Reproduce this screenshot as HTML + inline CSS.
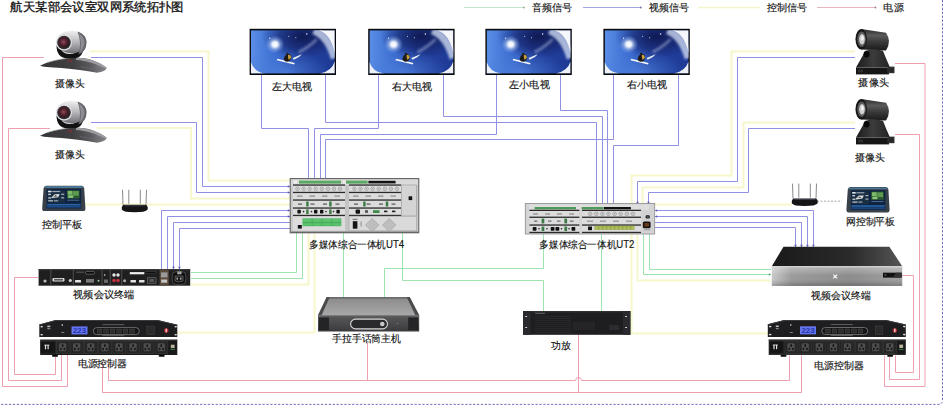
<!DOCTYPE html>
<html><head><meta charset="utf-8"><title>航天某部会议室双网系统拓扑图</title>
<style>
html,body{margin:0;padding:0;background:#fff;}
body{width:945px;height:408px;overflow:hidden;font-family:"Liberation Sans",sans-serif;}
svg{display:block;}
svg text{font-family:"Liberation Sans",sans-serif;}
.lbl{fill:#141414;stroke:#141414;stroke-width:0.15px;}
.ttl{stroke-width:0.32px;}
</style></head><body>
<svg width="945" height="408" viewBox="0 0 945 408">

<defs>
 <pattern id="dots" width="1.6" height="1.6" patternUnits="userSpaceOnUse"><circle cx="0.8" cy="0.8" r="0.55" fill="#929292"/></pattern>
 <linearGradient id="sky" x1="0" y1="0" x2="1" y2="0">
  <stop offset="0" stop-color="#5a8ee6"/>
  <stop offset="0.3" stop-color="#3a6cd0"/>
  <stop offset="0.55" stop-color="#22429e"/>
  <stop offset="1" stop-color="#1e3a96"/>
 </linearGradient>
 <radialGradient id="skydark" cx="0.62" cy="0.15" r="0.5">
  <stop offset="0" stop-color="#0e1850" stop-opacity="0.95"/>
  <stop offset="0.55" stop-color="#16246a" stop-opacity="0.65"/>
  <stop offset="1" stop-color="#1c2a78" stop-opacity="0"/>
 </radialGradient>
 <radialGradient id="skylow" cx="0.4" cy="1" r="0.55">
  <stop offset="0" stop-color="#5082e0" stop-opacity="0.8"/>
  <stop offset="1" stop-color="#4a7ad8" stop-opacity="0"/>
 </radialGradient>
 <radialGradient id="sun" cx="0.5" cy="0.5" r="0.5">
  <stop offset="0" stop-color="#ffffff"/>
  <stop offset="0.28" stop-color="#f4f8ff" stop-opacity="0.95"/>
  <stop offset="0.6" stop-color="#b8d0f8" stop-opacity="0.45"/>
  <stop offset="1" stop-color="#8ab0f0" stop-opacity="0"/>
 </radialGradient>
 <filter id="bl1" x="-20%" y="-20%" width="140%" height="140%"><feGaussianBlur stdDeviation="0.9"/></filter>
 <filter id="bl05" x="-20%" y="-20%" width="140%" height="140%"><feGaussianBlur stdDeviation="0.45"/></filter>
 <linearGradient id="camhead" x1="0" y1="0" x2="0" y2="1">
  <stop offset="0" stop-color="#f0f0f0"/>
  <stop offset="0.5" stop-color="#b8b8bc"/>
  <stop offset="1" stop-color="#707074"/>
 </linearGradient>
 <radialGradient id="lensL" cx="0.45" cy="0.45" r="0.55">
  <stop offset="0" stop-color="#8a4a5a"/>
  <stop offset="0.6" stop-color="#4a1c28"/>
  <stop offset="1" stop-color="#222"/>
 </radialGradient>
 <linearGradient id="cambase" x1="0" y1="0" x2="1" y2="0">
  <stop offset="0" stop-color="#363638"/>
  <stop offset="0.5" stop-color="#404042"/>
  <stop offset="0.75" stop-color="#5a5a5e"/>
  <stop offset="1" stop-color="#8a8a8e"/>
 </linearGradient>
 <linearGradient id="rcyl" x1="0" y1="0" x2="0" y2="1">
  <stop offset="0" stop-color="#2a2a2a"/>
  <stop offset="0.3" stop-color="#5a5a5a"/>
  <stop offset="0.6" stop-color="#3a3a3a"/>
  <stop offset="1" stop-color="#1a1a1a"/>
 </linearGradient>
 <linearGradient id="rbase" x1="0" y1="0" x2="1" y2="0">
  <stop offset="0" stop-color="#1c1c1c"/>
  <stop offset="0.5" stop-color="#3c3c3c"/>
  <stop offset="1" stop-color="#222"/>
 </linearGradient>
 <linearGradient id="termtop" x1="0" y1="0" x2="1" y2="0">
  <stop offset="0" stop-color="#1a1a1a"/>
  <stop offset="0.6" stop-color="#2a2a2a"/>
  <stop offset="1" stop-color="#555"/>
 </linearGradient>
 <linearGradient id="termfront" x1="0" y1="0" x2="1" y2="0">
  <stop offset="0" stop-color="#c8c8c8"/>
  <stop offset="0.15" stop-color="#9a9a9a"/>
  <stop offset="0.6" stop-color="#8a8a8a"/>
  <stop offset="1" stop-color="#a0a0a0"/>
 </linearGradient>
 <linearGradient id="termfrontv" x1="0" y1="0" x2="0" y2="1">
  <stop offset="0" stop-color="#ffffff" stop-opacity="0.35"/>
  <stop offset="0.5" stop-color="#ffffff" stop-opacity="0"/>
  <stop offset="1" stop-color="#000" stop-opacity="0.25"/>
 </linearGradient>
 <linearGradient id="mictop" x1="0" y1="0" x2="0" y2="1">
  <stop offset="0" stop-color="#8a8a8a"/>
  <stop offset="1" stop-color="#a8a8a8"/>
 </linearGradient>
 <linearGradient id="micfront" x1="0" y1="0" x2="0" y2="1">
  <stop offset="0" stop-color="#5a5a5c"/>
  <stop offset="1" stop-color="#3a3a3c"/>
 </linearGradient>
 <linearGradient id="tabscreen" x1="0" y1="0" x2="0" y2="1">
  <stop offset="0" stop-color="#1e5a9a"/>
  <stop offset="0.2" stop-color="#0e2a52"/>
  <stop offset="1" stop-color="#0c2448"/>
 </linearGradient>
</defs>

<rect width="945" height="408" fill="#ffffff"/>
<polyline points="91,57.5 202.5,57.5 202.5,186.5 290,186.5" fill="none" stroke="#9090e4" stroke-width="1" />
<polyline points="91,122.5 196.5,122.5 196.5,192.5 290,192.5" fill="none" stroke="#9090e4" stroke-width="1" />
<polyline points="161.5,269 161.5,210.5 290,210.5" fill="none" stroke="#9090e4" stroke-width="1" />
<polyline points="167.5,269 167.5,216.5 290,216.5" fill="none" stroke="#9090e4" stroke-width="1" />
<polyline points="173.5,269 173.5,222.5 290,222.5" fill="none" stroke="#9090e4" stroke-width="1" />
<polyline points="179.5,269 179.5,228.5 290,228.5" fill="none" stroke="#9090e4" stroke-width="1" />
<polyline points="261.5,75 261.5,128.5 308.5,128.5 308.5,178" fill="none" stroke="#9090e4" stroke-width="1" />
<polyline points="378.5,75 378.5,128.5 314.5,128.5 314.5,178" fill="none" stroke="#9090e4" stroke-width="1" />
<polyline points="496.5,75 496.5,134.5 320.5,134.5 320.5,178" fill="none" stroke="#9090e4" stroke-width="1" />
<polyline points="613.5,75 613.5,139.5 325.5,139.5 325.5,178" fill="none" stroke="#9090e4" stroke-width="1" />
<polyline points="325.5,75 325.5,122.5 596.5,122.5 596.5,204" fill="none" stroke="#9090e4" stroke-width="1" />
<polyline points="443.5,75 443.5,116.5 602.5,116.5 602.5,204" fill="none" stroke="#9090e4" stroke-width="1" />
<polyline points="560.5,75 560.5,110.5 607.5,110.5 607.5,204" fill="none" stroke="#9090e4" stroke-width="1" />
<polyline points="678.5,75 678.5,145.5 613.5,145.5 613.5,204" fill="none" stroke="#9090e4" stroke-width="1" />
<polyline points="855,57.5 737.5,57.5 737.5,181.5 637.5,181.5 637.5,204" fill="none" stroke="#9090e4" stroke-width="1" />
<polyline points="855,128.5 748.5,128.5 748.5,192.5 648.5,192.5 648.5,204" fill="none" stroke="#9090e4" stroke-width="1" />
<polyline points="655,210.5 813.5,210.5 813.5,247" fill="none" stroke="#9090e4" stroke-width="1" />
<polyline points="655,216.5 807.5,216.5 807.5,247" fill="none" stroke="#9090e4" stroke-width="1" />
<polyline points="655,222.5 801.5,222.5 801.5,247" fill="none" stroke="#9090e4" stroke-width="1" />
<polyline points="655,227.5 795.5,227.5 795.5,247" fill="none" stroke="#9090e4" stroke-width="1" />
<polyline points="90,51.5 208.5,51.5 208.5,180.5 290,180.5" fill="none" stroke="#f7f7cc" stroke-width="2" />
<polyline points="97,128 191,128 191,198.5 290,198.5" fill="none" stroke="#f7f7cc" stroke-width="2" />
<polyline points="85,204.5 290,204.5" fill="none" stroke="#f7f7cc" stroke-width="2" />
<polyline points="191,284.5 308.5,284.5 308.5,233" fill="none" stroke="#f7f7cc" stroke-width="2" />
<polyline points="177,332.5 314.5,332.5 314.5,233" fill="none" stroke="#f7f7cc" stroke-width="2" />
<polyline points="855,51.5 731.5,51.5 731.5,175.5 631.5,175.5 631.5,204" fill="none" stroke="#f7f7cc" stroke-width="2" />
<polyline points="855,122.5 743.5,122.5 743.5,187.5 642.5,187.5 642.5,204" fill="none" stroke="#f7f7cc" stroke-width="2" />
<polyline points="655,204.5 792,204.5" fill="none" stroke="#f7f7cc" stroke-width="2" />
<polyline points="637.5,234 637.5,280.5 771,280.5" fill="none" stroke="#f7f7cc" stroke-width="2" />
<polyline points="631.5,234 631.5,333.5 768,333.5" fill="none" stroke="#f7f7cc" stroke-width="2" />
<polyline points="191,272.5 296.5,272.5 296.5,233" fill="none" stroke="#9ee4b0" stroke-width="1" />
<polyline points="191,278.5 302.5,278.5 302.5,233" fill="none" stroke="#9ee4b0" stroke-width="1" />
<polyline points="343.5,233 343.5,297" fill="none" stroke="#9ee4b0" stroke-width="1" />
<polyline points="543.5,234 543.5,268.5 384.5,268.5 384.5,297" fill="none" stroke="#9ee4b0" stroke-width="1" />
<polyline points="402.5,233 402.5,280.5 543.5,280.5 543.5,311" fill="none" stroke="#9ee4b0" stroke-width="1" />
<polyline points="601.5,234 601.5,311" fill="none" stroke="#9ee4b0" stroke-width="1" />
<polyline points="643.5,234 643.5,274.5 771,274.5" fill="none" stroke="#9ee4b0" stroke-width="1" />
<polyline points="649.5,234 649.5,269.5 771,269.5" fill="none" stroke="#9ee4b0" stroke-width="1" />
<polyline points="44,57.5 2.5,57.5 2.5,386.5 67.5,386.5 67.5,355" fill="none" stroke="#eea0b0" stroke-width="1" />
<polyline points="50,128.5 8.5,128.5 8.5,380.5 61.5,380.5 61.5,355" fill="none" stroke="#eea0b0" stroke-width="1" />
<polyline points="38,277.5 14.5,277.5 14.5,374.5 55.5,374.5 55.5,355" fill="none" stroke="#eea0b0" stroke-width="1" />
<polyline points="102.5,362 102.5,392.5 801.5,392.5 801.5,355.6" fill="none" stroke="#eea0b0" stroke-width="1" />
<polyline points="367.5,343 367.5,380.5" fill="none" stroke="#eea0b0" stroke-width="1" />
<polyline points="578.5,334.5 578.5,392.5" fill="none" stroke="#eea0b0" stroke-width="1" />
<polyline points="895,63.5 925,63.5 925,386.5 884.5,386.5 884.5,355.6" fill="none" stroke="#eea0b0" stroke-width="1" />
<polyline points="895,134.5 919.5,134.5 919.5,379.5 889.5,379.5 889.5,355.6" fill="none" stroke="#eea0b0" stroke-width="1" />
<polyline points="902,275.5 913.5,275.5 913.5,372.5 895.5,372.5 895.5,355.6" fill="none" stroke="#eea0b0" stroke-width="1" />
<path d="M108.5,362 V380.5 H575.5 a3,3 0 0 1 6,0 H789.5 V355.6" fill="none" stroke="#eea0b0" stroke-width="1"/>
<polygon points="290,186.5 287.84,185.15 287.84,187.85" fill="#5a5ab8"/>
<polygon points="290,192.5 287.84,191.15 287.84,193.85" fill="#5a5ab8"/>
<polygon points="290,210.5 287.84,209.15 287.84,211.85" fill="#5a5ab8"/>
<polygon points="290,216.5 287.84,215.15 287.84,217.85" fill="#5a5ab8"/>
<polygon points="637.5,204 636.15,201.84 638.85,201.84" fill="#5a5ab8"/>
<polygon points="648.5,204 647.15,201.84 649.85,201.84" fill="#5a5ab8"/>
<polygon points="655,210.5 657.16,209.15 657.16,211.85" fill="#5a5ab8"/>
<polygon points="655,216.5 657.16,215.15 657.16,217.85" fill="#5a5ab8"/>
<polygon points="173.5,269 172.15,266.84 174.85,266.84" fill="#5a5ab8"/>
<polygon points="179.5,269 178.15,266.84 180.85,266.84" fill="#5a5ab8"/>
<polygon points="795.5,247 794.15,244.84 796.85,244.84" fill="#5a5ab8"/>
<polygon points="801.5,247 800.15,244.84 802.85,244.84" fill="#5a5ab8"/>
<polygon points="807.5,247 806.15,244.84 808.85,244.84" fill="#5a5ab8"/>
<polygon points="813.5,247 812.15,244.84 814.85,244.84" fill="#5a5ab8"/>
<polygon points="771,274.5 768.84,273.15 768.84,275.85" fill="#5a9a6a"/>
<polyline points="464,7.5 523.5,7.5" fill="none" stroke="#c4e6c8" stroke-width="1" />
<circle cx="523.8" cy="7.5" r="0.9" fill="#90a894"/>
<polyline points="583,7.5 640.5,7.5" fill="none" stroke="#a4a4e2" stroke-width="1" />
<circle cx="640.8" cy="7.5" r="0.9" fill="#7070a8"/>
<polyline points="698,7.5 760,7.5" fill="none" stroke="#f4f4cc" stroke-width="1.5" />
<polyline points="817,7.5 875.5,7.5" fill="none" stroke="#e8b4be" stroke-width="1" />
<circle cx="875.5" cy="7.5" r="0.9" fill="#a08088"/>
<line x1="817" y1="201.2" x2="842" y2="201.2" stroke="#909090" stroke-width="0.8" stroke-dasharray="2,1.5"/>
<path d="M942.5,0 V400 Q942.5,404.4 938,404.4 H0" fill="none" stroke="#7070c0" stroke-width="1" stroke-dasharray="2.3,1.6"/>
<g transform="translate(249.6,28.8)">
 <rect x="0" y="0" width="86.4" height="46.2" fill="#0a0a0a"/>
 <svg x="1.2" y="1.4" width="84" height="43.4" viewBox="0 0 84 43.4" overflow="hidden">  <rect width="84" height="43.4" fill="url(#sky)"/>
  <rect width="84" height="43.4" fill="url(#skydark)"/>
  <rect width="84" height="43.4" fill="url(#skylow)"/>
  <g filter="url(#bl1)">
   <path d="M63,0 Q78,6 84,28" fill="none" stroke="#cad6ee" stroke-width="8" opacity="0.8"/>
   <path d="M48,22 Q58,17 66,9" fill="none" stroke="#b8c6e8" stroke-width="3" opacity="0.45"/>
  </g>
  <path d="M68,0 Q80,4 84,23 V0 Z" fill="#f4f6fa"/>
  <path d="M0,31.5 Q3,42 15,43.4 H0 Z" fill="#eef2f8"/>
  <path d="M69,43.4 Q81,41 84,31 V43.4 Z" fill="#eef2f8"/>
  <ellipse cx="24.2" cy="14.2" rx="9.5" ry="9" fill="url(#sun)"/>
  <path d="M42,27.8 Q47,25.5 51,24 Q49.5,26.5 43,29.5 Z" fill="#e4eaf6" filter="url(#bl05)"/>
  <path d="M26,30 L43.4,34.4 L43.9,32.8 L26.6,28.6 Z" fill="#f8f8f8"/>
  <path d="M33,28.5 Q34,24.5 37,23.8 Q40.5,24 40.5,27 Q40,31 36.5,31.6 Q33.5,31.4 33,28.5 Z" fill="#1e1a16"/>
  <path d="M37.2,24.6 Q40,24.6 40.2,27 Q39.6,29.2 37.8,29.6 Q37,27 37.2,24.6 Z" fill="#c8a040"/>
  <circle cx="36.6" cy="23.6" r="1.1" fill="#241c14"/>
  <circle cx="56" cy="3.8" r="0.7" fill="#fff"/>
  <circle cx="38" cy="6" r="0.5" fill="#fff"/>
  <circle cx="45" cy="7.5" r="0.5" fill="#fff"/>
  <circle cx="19" cy="8" r="0.6" fill="#fff"/>
</svg>
</g>
<g transform="translate(368.2,28.8)">
 <rect x="0" y="0" width="86.4" height="46.2" fill="#0a0a0a"/>
 <svg x="1.2" y="1.4" width="84" height="43.4" viewBox="0 0 84 43.4" overflow="hidden">  <rect width="84" height="43.4" fill="url(#sky)"/>
  <rect width="84" height="43.4" fill="url(#skydark)"/>
  <rect width="84" height="43.4" fill="url(#skylow)"/>
  <g filter="url(#bl1)">
   <path d="M63,0 Q78,6 84,28" fill="none" stroke="#cad6ee" stroke-width="8" opacity="0.8"/>
   <path d="M48,22 Q58,17 66,9" fill="none" stroke="#b8c6e8" stroke-width="3" opacity="0.45"/>
  </g>
  <path d="M68,0 Q80,4 84,23 V0 Z" fill="#f4f6fa"/>
  <path d="M0,31.5 Q3,42 15,43.4 H0 Z" fill="#eef2f8"/>
  <path d="M69,43.4 Q81,41 84,31 V43.4 Z" fill="#eef2f8"/>
  <ellipse cx="24.2" cy="14.2" rx="9.5" ry="9" fill="url(#sun)"/>
  <path d="M42,27.8 Q47,25.5 51,24 Q49.5,26.5 43,29.5 Z" fill="#e4eaf6" filter="url(#bl05)"/>
  <path d="M26,30 L43.4,34.4 L43.9,32.8 L26.6,28.6 Z" fill="#f8f8f8"/>
  <path d="M33,28.5 Q34,24.5 37,23.8 Q40.5,24 40.5,27 Q40,31 36.5,31.6 Q33.5,31.4 33,28.5 Z" fill="#1e1a16"/>
  <path d="M37.2,24.6 Q40,24.6 40.2,27 Q39.6,29.2 37.8,29.6 Q37,27 37.2,24.6 Z" fill="#c8a040"/>
  <circle cx="36.6" cy="23.6" r="1.1" fill="#241c14"/>
  <circle cx="56" cy="3.8" r="0.7" fill="#fff"/>
  <circle cx="38" cy="6" r="0.5" fill="#fff"/>
  <circle cx="45" cy="7.5" r="0.5" fill="#fff"/>
  <circle cx="19" cy="8" r="0.6" fill="#fff"/>
</svg>
</g>
<g transform="translate(485.4,28.8)">
 <rect x="0" y="0" width="86.4" height="46.2" fill="#0a0a0a"/>
 <svg x="1.2" y="1.4" width="84" height="43.4" viewBox="0 0 84 43.4" overflow="hidden">  <rect width="84" height="43.4" fill="url(#sky)"/>
  <rect width="84" height="43.4" fill="url(#skydark)"/>
  <rect width="84" height="43.4" fill="url(#skylow)"/>
  <g filter="url(#bl1)">
   <path d="M63,0 Q78,6 84,28" fill="none" stroke="#cad6ee" stroke-width="8" opacity="0.8"/>
   <path d="M48,22 Q58,17 66,9" fill="none" stroke="#b8c6e8" stroke-width="3" opacity="0.45"/>
  </g>
  <path d="M68,0 Q80,4 84,23 V0 Z" fill="#f4f6fa"/>
  <path d="M0,31.5 Q3,42 15,43.4 H0 Z" fill="#eef2f8"/>
  <path d="M69,43.4 Q81,41 84,31 V43.4 Z" fill="#eef2f8"/>
  <ellipse cx="24.2" cy="14.2" rx="9.5" ry="9" fill="url(#sun)"/>
  <path d="M42,27.8 Q47,25.5 51,24 Q49.5,26.5 43,29.5 Z" fill="#e4eaf6" filter="url(#bl05)"/>
  <path d="M26,30 L43.4,34.4 L43.9,32.8 L26.6,28.6 Z" fill="#f8f8f8"/>
  <path d="M33,28.5 Q34,24.5 37,23.8 Q40.5,24 40.5,27 Q40,31 36.5,31.6 Q33.5,31.4 33,28.5 Z" fill="#1e1a16"/>
  <path d="M37.2,24.6 Q40,24.6 40.2,27 Q39.6,29.2 37.8,29.6 Q37,27 37.2,24.6 Z" fill="#c8a040"/>
  <circle cx="36.6" cy="23.6" r="1.1" fill="#241c14"/>
  <circle cx="56" cy="3.8" r="0.7" fill="#fff"/>
  <circle cx="38" cy="6" r="0.5" fill="#fff"/>
  <circle cx="45" cy="7.5" r="0.5" fill="#fff"/>
  <circle cx="19" cy="8" r="0.6" fill="#fff"/>
</svg>
</g>
<g transform="translate(603.4,28.8)">
 <rect x="0" y="0" width="86.4" height="46.2" fill="#0a0a0a"/>
 <svg x="1.2" y="1.4" width="84" height="43.4" viewBox="0 0 84 43.4" overflow="hidden">  <rect width="84" height="43.4" fill="url(#sky)"/>
  <rect width="84" height="43.4" fill="url(#skydark)"/>
  <rect width="84" height="43.4" fill="url(#skylow)"/>
  <g filter="url(#bl1)">
   <path d="M63,0 Q78,6 84,28" fill="none" stroke="#cad6ee" stroke-width="8" opacity="0.8"/>
   <path d="M48,22 Q58,17 66,9" fill="none" stroke="#b8c6e8" stroke-width="3" opacity="0.45"/>
  </g>
  <path d="M68,0 Q80,4 84,23 V0 Z" fill="#f4f6fa"/>
  <path d="M0,31.5 Q3,42 15,43.4 H0 Z" fill="#eef2f8"/>
  <path d="M69,43.4 Q81,41 84,31 V43.4 Z" fill="#eef2f8"/>
  <ellipse cx="24.2" cy="14.2" rx="9.5" ry="9" fill="url(#sun)"/>
  <path d="M42,27.8 Q47,25.5 51,24 Q49.5,26.5 43,29.5 Z" fill="#e4eaf6" filter="url(#bl05)"/>
  <path d="M26,30 L43.4,34.4 L43.9,32.8 L26.6,28.6 Z" fill="#f8f8f8"/>
  <path d="M33,28.5 Q34,24.5 37,23.8 Q40.5,24 40.5,27 Q40,31 36.5,31.6 Q33.5,31.4 33,28.5 Z" fill="#1e1a16"/>
  <path d="M37.2,24.6 Q40,24.6 40.2,27 Q39.6,29.2 37.8,29.6 Q37,27 37.2,24.6 Z" fill="#c8a040"/>
  <circle cx="36.6" cy="23.6" r="1.1" fill="#241c14"/>
  <circle cx="56" cy="3.8" r="0.7" fill="#fff"/>
  <circle cx="38" cy="6" r="0.5" fill="#fff"/>
  <circle cx="45" cy="7.5" r="0.5" fill="#fff"/>
  <circle cx="19" cy="8" r="0.6" fill="#fff"/>
</svg>
</g>
<g transform="translate(40,30.5)">
 <path d="M0,35.3 C8,31 20,28 36,27.3 C48,27 58,31 66.8,37.2 L65.4,39.6 C62,41.6 58,42.3 55.5,42.1 C45,40.2 30,37.9 4,36.3 Z" fill="url(#cambase)"/>
 <path d="M36,27.3 C48,27 58,31 66.8,37.2 L64,37.8 C56,33.4 47,30.2 36,29.6 Z" fill="#9c9ca0"/>
 <path d="M8,31.8 C18,28.6 28,27.4 36,27.3" fill="none" stroke="#a8a8a8" stroke-width="0.7"/>
 <path d="M64,37.8 C58,39 52,38.5 40,36" fill="none" stroke="#6a6a6e" stroke-width="0.6"/>
 <ellipse cx="30" cy="30.5" rx="2.6" ry="1.1" fill="#8a2a30" opacity="0.75"/>
 <path d="M16.5,15 Q16.5,27.6 28,27.9 L35,27.9 Q43,27.4 43.5,16 L40,16 Q38,23.6 30,23.6 Q21,23.6 19.8,15 Z" fill="#121212"/>
 <ellipse cx="31.5" cy="11.6" rx="15" ry="11.3" fill="url(#camhead)"/>
 <path d="M37.5,1 Q46.5,4 46.5,12 Q46.5,21 38.5,24 Q42,12 37.5,1 Z" fill="#66666c"/>
 <path d="M39,3 Q44,6 44.5,12 Q44,18 40,22 Q42,12 39,3 Z" fill="#8c8c92"/>
 <circle cx="24" cy="12" r="8" fill="#e0e0e4"/>
 <circle cx="24" cy="12" r="6.8" fill="#303034"/>
 <circle cx="24" cy="12" r="5.8" fill="url(#lensL)"/>
</g>
<g transform="translate(40,100.5)">
 <path d="M0,35.3 C8,31 20,28 36,27.3 C48,27 58,31 66.8,37.2 L65.4,39.6 C62,41.6 58,42.3 55.5,42.1 C45,40.2 30,37.9 4,36.3 Z" fill="url(#cambase)"/>
 <path d="M36,27.3 C48,27 58,31 66.8,37.2 L64,37.8 C56,33.4 47,30.2 36,29.6 Z" fill="#9c9ca0"/>
 <path d="M8,31.8 C18,28.6 28,27.4 36,27.3" fill="none" stroke="#a8a8a8" stroke-width="0.7"/>
 <path d="M64,37.8 C58,39 52,38.5 40,36" fill="none" stroke="#6a6a6e" stroke-width="0.6"/>
 <ellipse cx="30" cy="30.5" rx="2.6" ry="1.1" fill="#8a2a30" opacity="0.75"/>
 <path d="M16.5,15 Q16.5,27.6 28,27.9 L35,27.9 Q43,27.4 43.5,16 L40,16 Q38,23.6 30,23.6 Q21,23.6 19.8,15 Z" fill="#121212"/>
 <ellipse cx="31.5" cy="11.6" rx="15" ry="11.3" fill="url(#camhead)"/>
 <path d="M37.5,1 Q46.5,4 46.5,12 Q46.5,21 38.5,24 Q42,12 37.5,1 Z" fill="#66666c"/>
 <path d="M39,3 Q44,6 44.5,12 Q44,18 40,22 Q42,12 39,3 Z" fill="#8c8c92"/>
 <circle cx="24" cy="12" r="8" fill="#e0e0e4"/>
 <circle cx="24" cy="12" r="6.8" fill="#303034"/>
 <circle cx="24" cy="12" r="5.8" fill="url(#lensL)"/>
</g>
<g transform="translate(855,28.8)">
 <path d="M6,0.3 L31,4 Q37,12.5 31,21.6 L6,20.7 Z" fill="url(#rcyl)"/>
 <ellipse cx="6.2" cy="10.5" rx="5.7" ry="10.2" fill="#161616"/>
 <ellipse cx="6.6" cy="10.5" rx="4.3" ry="7.8" fill="#5a5a5a"/>
 <ellipse cx="7" cy="10.5" rx="2.8" ry="5.2" fill="#d0d0d0"/>
 <ellipse cx="7.4" cy="9.5" rx="1.2" ry="2.4" fill="#f4f4f4"/>
 <path d="M10.5,22 Q19,18.8 28,22 Q31,30 35,38.8 L1,38.8 Q6,30 10.5,22 Z" fill="url(#rbase)"/>
 <ellipse cx="11.5" cy="25.5" rx="3" ry="3.2" fill="#0a0a0a"/>
 <rect x="1" y="38.8" width="33" height="6.8" fill="#161616"/>
 <rect x="32.5" y="37.8" width="7" height="6.6" fill="#3a3a3a"/>
 <rect x="33.2" y="38.6" width="5.6" height="5" fill="#2a2a2a"/>
 <rect x="3" y="40.6" width="5" height="3" fill="#2e2e2e"/>
</g>
<g transform="translate(855,98.8)">
 <path d="M6,0.3 L31,4 Q37,12.5 31,21.6 L6,20.7 Z" fill="url(#rcyl)"/>
 <ellipse cx="6.2" cy="10.5" rx="5.7" ry="10.2" fill="#161616"/>
 <ellipse cx="6.6" cy="10.5" rx="4.3" ry="7.8" fill="#5a5a5a"/>
 <ellipse cx="7" cy="10.5" rx="2.8" ry="5.2" fill="#d0d0d0"/>
 <ellipse cx="7.4" cy="9.5" rx="1.2" ry="2.4" fill="#f4f4f4"/>
 <path d="M10.5,22 Q19,18.8 28,22 Q31,30 35,38.8 L1,38.8 Q6,30 10.5,22 Z" fill="url(#rbase)"/>
 <ellipse cx="11.5" cy="25.5" rx="3" ry="3.2" fill="#0a0a0a"/>
 <rect x="1" y="38.8" width="33" height="6.8" fill="#161616"/>
 <rect x="32.5" y="37.8" width="7" height="6.6" fill="#3a3a3a"/>
 <rect x="33.2" y="38.6" width="5.6" height="5" fill="#2a2a2a"/>
 <rect x="3" y="40.6" width="5" height="3" fill="#2e2e2e"/>
</g>
<g transform="translate(42.2,185.7)">
 <path d="M4,0 L39.5,0 Q41.6,0.3 42,2.5 L43.2,22.5 Q43.4,25.3 41,25.4 L2.2,25.4 Q-0.2,25.3 0,22.5 L1.4,2.5 Q1.8,0.3 4,0 Z" fill="#38404a"/>
 <path d="M4.2,0.4 L39.3,0.4 Q41,0.6 41.4,2.2 L2,2.2 Q2.4,0.6 4.2,0.4 Z" fill="#4a7494"/>
 <rect x="4.4" y="3.2" width="34.6" height="19.6" fill="#0e2442"/>
 <rect x="5.2" y="4.5" width="17.5" height="12.5" fill="#1a2e44"/>
 <rect x="5.8" y="5" width="3.5" height="1.6" fill="#dfe6ea"/>
 <rect x="10" y="5.2" width="8" height="1.2" fill="#9aa8b2"/>
 <rect x="6" y="8" width="2.6" height="1.4" fill="#c8d0d4"/>
 <path d="M9,12 L12.5,8.6 L17.5,8.4 L16,11.5 L10,12.4 Z" fill="#d8dcdc"/>
 <path d="M11.5,11 L13.5,9.4 L15,10.8 Z" fill="#3a3a30"/>
 <rect x="6" y="11.6" width="3" height="1.3" fill="#c8d0d4"/>
 <rect x="6" y="14.4" width="5" height="1.4" fill="#a8b4ba"/>
 <rect x="12" y="14.4" width="4" height="1.4" fill="#8a9aa4"/>
 <rect x="19" y="8" width="3" height="1.2" fill="#a8b4ba"/>
 <rect x="19" y="11.5" width="3" height="1.2" fill="#a8b4ba"/>
 <rect x="24.8" y="4.6" width="12.6" height="8.2" fill="#2e5a32"/>
 <rect x="25.5" y="5.2" width="4.8" height="3.8" fill="#7ab86a"/>
 <rect x="30.8" y="5.4" width="5.8" height="4.6" fill="#5c9a50"/>
 <rect x="26" y="9.6" width="5" height="2.6" fill="#8ac87a"/>
 <rect x="25" y="14" width="12" height="1" fill="#4a6a8a"/>
 <rect x="5" y="18.2" width="33.4" height="1.6" fill="#2a64a8"/>
 <rect x="5" y="20.4" width="33.4" height="1.4" fill="#1e5090"/>
</g>
<g transform="translate(846.4,187)">
 <path d="M4,0 L39.5,0 Q41.6,0.3 42,2.5 L43.2,22.5 Q43.4,25.3 41,25.4 L2.2,25.4 Q-0.2,25.3 0,22.5 L1.4,2.5 Q1.8,0.3 4,0 Z" fill="#38404a"/>
 <path d="M4.2,0.4 L39.3,0.4 Q41,0.6 41.4,2.2 L2,2.2 Q2.4,0.6 4.2,0.4 Z" fill="#4a7494"/>
 <rect x="4.4" y="3.2" width="34.6" height="19.6" fill="#0e2442"/>
 <rect x="5.2" y="4.5" width="17.5" height="12.5" fill="#1a2e44"/>
 <rect x="5.8" y="5" width="3.5" height="1.6" fill="#dfe6ea"/>
 <rect x="10" y="5.2" width="8" height="1.2" fill="#9aa8b2"/>
 <rect x="6" y="8" width="2.6" height="1.4" fill="#c8d0d4"/>
 <path d="M9,12 L12.5,8.6 L17.5,8.4 L16,11.5 L10,12.4 Z" fill="#d8dcdc"/>
 <path d="M11.5,11 L13.5,9.4 L15,10.8 Z" fill="#3a3a30"/>
 <rect x="6" y="11.6" width="3" height="1.3" fill="#c8d0d4"/>
 <rect x="6" y="14.4" width="5" height="1.4" fill="#a8b4ba"/>
 <rect x="12" y="14.4" width="4" height="1.4" fill="#8a9aa4"/>
 <rect x="19" y="8" width="3" height="1.2" fill="#a8b4ba"/>
 <rect x="19" y="11.5" width="3" height="1.2" fill="#a8b4ba"/>
 <rect x="24.8" y="4.6" width="12.6" height="8.2" fill="#2e5a32"/>
 <rect x="25.5" y="5.2" width="4.8" height="3.8" fill="#7ab86a"/>
 <rect x="30.8" y="5.4" width="5.8" height="4.6" fill="#5c9a50"/>
 <rect x="26" y="9.6" width="5" height="2.6" fill="#8ac87a"/>
 <rect x="25" y="14" width="12" height="1" fill="#4a6a8a"/>
 <rect x="5" y="18.2" width="33.4" height="1.6" fill="#2a64a8"/>
 <rect x="5" y="20.4" width="33.4" height="1.4" fill="#1e5090"/>
</g>
<g transform="translate(121.5,189.8)">
 <g stroke="#8a8a8a" stroke-width="1">
  <line x1="1" y1="0" x2="1.5" y2="15"/>
  <line x1="7.3" y1="0" x2="7.3" y2="14"/>
  <line x1="18.8" y1="0" x2="18.8" y2="14"/>
  <line x1="25" y1="0" x2="24.5" y2="15"/>
 </g>
 <path d="M2,15 L24.5,15 Q27,17 26,20 Q24,22.5 13,22.5 Q2,22.5 0.5,20 Q-0.5,17 2,15 Z" fill="#151518"/>
 <path d="M3,15.5 L23.5,15.5 L24,16.5 L2.5,16.5 Z" fill="#3a3a44"/>
</g>
<g transform="translate(791.5,183.6)">
 <g stroke="#8a8a8a" stroke-width="1">
  <line x1="1" y1="0" x2="1.5" y2="15"/>
  <line x1="7.3" y1="0" x2="7.3" y2="14"/>
  <line x1="18.8" y1="0" x2="18.8" y2="14"/>
  <line x1="25" y1="0" x2="24.5" y2="15"/>
 </g>
 <path d="M2,15 L24.5,15 Q27,17 26,20 Q24,22.5 13,22.5 Q2,22.5 0.5,20 Q-0.5,17 2,15 Z" fill="#151518"/>
 <path d="M3,15.5 L23.5,15.5 L24,16.5 L2.5,16.5 Z" fill="#3a3a44"/>
</g>
<rect x="290.20" y="178.60" width="128.60" height="54.20" fill="#cacaca" stroke="#5a5a5a" stroke-width="1"/>
<rect x="291.20" y="179.60" width="126.60" height="6.00" fill="#dadada" />
<rect x="299.00" y="180.60" width="42.00" height="3.00" fill="#5aa862" />
<rect x="346.00" y="180.60" width="21.60" height="3.00" fill="#5aa862" />
<rect x="368.40" y="180.80" width="27.20" height="2.60" fill="#111" />
<rect x="294.00" y="180.50" width="3.00" height="3.00" fill="#eee" />
<rect x="343.00" y="180.50" width="2.50" height="3.00" fill="#eee" />
<rect x="293.00" y="185.50" width="52.00" height="45.00" fill="#dcdcdc" />
<rect x="293.00" y="184.40" width="52.00" height="1.30" fill="#2a2a2a" />
<rect x="293.00" y="191.80" width="52.00" height="1.30" fill="#2a2a2a" />
<rect x="293.00" y="199.40" width="52.00" height="1.30" fill="#2a2a2a" />
<rect x="293.00" y="207.40" width="52.00" height="1.30" fill="#2a2a2a" />
<rect x="293.00" y="214.80" width="52.00" height="1.30" fill="#2a2a2a" />
<rect x="349.00" y="185.50" width="52.00" height="45.00" fill="#dcdcdc" />
<rect x="349.00" y="184.40" width="52.00" height="1.30" fill="#2a2a2a" />
<rect x="349.00" y="191.80" width="52.00" height="1.30" fill="#2a2a2a" />
<rect x="349.00" y="199.40" width="52.00" height="1.30" fill="#2a2a2a" />
<rect x="349.00" y="207.40" width="52.00" height="1.30" fill="#2a2a2a" />
<rect x="349.00" y="214.80" width="52.00" height="1.30" fill="#2a2a2a" />
<rect x="345.00" y="185.00" width="4.00" height="46.00" fill="#c4c4c4" />
<rect x="401.50" y="185.00" width="15.00" height="31.00" fill="#d4d4d4" stroke="#9a9a9a" stroke-width="0.6"/>
<rect x="349.00" y="216.20" width="67.50" height="14.60" fill="#dadada" stroke="#a0a0a0" stroke-width="0.6"/>
<rect x="360.50" y="221.50" width="1.20" height="5.00" fill="#9a9a9a" />
<rect x="408.60" y="196.30" width="3.60" height="3.80" fill="#111" />
<circle cx="297.50" cy="188.8" r="1.8" fill="#dedede" stroke="#7e7e7e" stroke-width="0.55"/><circle cx="297.50" cy="188.8" r="0.7" fill="#a0a0a0"/>
<circle cx="354.40" cy="188.8" r="1.8" fill="#dedede" stroke="#7e7e7e" stroke-width="0.55"/><circle cx="354.40" cy="188.8" r="0.7" fill="#a0a0a0"/>
<circle cx="303.58" cy="188.8" r="1.8" fill="#dedede" stroke="#7e7e7e" stroke-width="0.55"/><circle cx="303.58" cy="188.8" r="0.7" fill="#a0a0a0"/>
<circle cx="360.48" cy="188.8" r="1.8" fill="#dedede" stroke="#7e7e7e" stroke-width="0.55"/><circle cx="360.48" cy="188.8" r="0.7" fill="#a0a0a0"/>
<circle cx="309.66" cy="188.8" r="1.8" fill="#dedede" stroke="#7e7e7e" stroke-width="0.55"/><circle cx="309.66" cy="188.8" r="0.7" fill="#a0a0a0"/>
<circle cx="366.56" cy="188.8" r="1.8" fill="#dedede" stroke="#7e7e7e" stroke-width="0.55"/><circle cx="366.56" cy="188.8" r="0.7" fill="#a0a0a0"/>
<circle cx="315.74" cy="188.8" r="1.8" fill="#dedede" stroke="#7e7e7e" stroke-width="0.55"/><circle cx="315.74" cy="188.8" r="0.7" fill="#a0a0a0"/>
<circle cx="372.64" cy="188.8" r="1.8" fill="#dedede" stroke="#7e7e7e" stroke-width="0.55"/><circle cx="372.64" cy="188.8" r="0.7" fill="#a0a0a0"/>
<circle cx="321.82" cy="188.8" r="1.8" fill="#dedede" stroke="#7e7e7e" stroke-width="0.55"/><circle cx="321.82" cy="188.8" r="0.7" fill="#a0a0a0"/>
<circle cx="378.72" cy="188.8" r="1.8" fill="#dedede" stroke="#7e7e7e" stroke-width="0.55"/><circle cx="378.72" cy="188.8" r="0.7" fill="#a0a0a0"/>
<circle cx="327.90" cy="188.8" r="1.8" fill="#dedede" stroke="#7e7e7e" stroke-width="0.55"/><circle cx="327.90" cy="188.8" r="0.7" fill="#a0a0a0"/>
<circle cx="384.80" cy="188.8" r="1.8" fill="#dedede" stroke="#7e7e7e" stroke-width="0.55"/><circle cx="384.80" cy="188.8" r="0.7" fill="#a0a0a0"/>
<circle cx="333.98" cy="188.8" r="1.8" fill="#dedede" stroke="#7e7e7e" stroke-width="0.55"/><circle cx="333.98" cy="188.8" r="0.7" fill="#a0a0a0"/>
<circle cx="390.88" cy="188.8" r="1.8" fill="#dedede" stroke="#7e7e7e" stroke-width="0.55"/><circle cx="390.88" cy="188.8" r="0.7" fill="#a0a0a0"/>
<circle cx="340.06" cy="188.8" r="1.8" fill="#dedede" stroke="#7e7e7e" stroke-width="0.55"/><circle cx="340.06" cy="188.8" r="0.7" fill="#a0a0a0"/>
<circle cx="396.96" cy="188.8" r="1.8" fill="#dedede" stroke="#7e7e7e" stroke-width="0.55"/><circle cx="396.96" cy="188.8" r="0.7" fill="#a0a0a0"/>
<rect x="297.00" y="195.50" width="5.50" height="1.20" fill="#8a8a8a" />
<rect x="309.50" y="195.50" width="5.50" height="1.20" fill="#8a8a8a" />
<rect x="322.00" y="195.50" width="5.50" height="1.20" fill="#8a8a8a" />
<rect x="334.50" y="195.50" width="5.50" height="1.20" fill="#8a8a8a" />
<rect x="353.00" y="195.50" width="5.50" height="1.20" fill="#8a8a8a" />
<rect x="365.50" y="195.50" width="5.50" height="1.20" fill="#8a8a8a" />
<rect x="378.00" y="195.50" width="5.50" height="1.20" fill="#8a8a8a" />
<rect x="390.50" y="195.50" width="5.50" height="1.20" fill="#8a8a8a" />
<rect x="298.00" y="203.50" width="4.00" height="1.20" fill="#555" />
<rect x="310.50" y="203.50" width="4.00" height="1.20" fill="#555" />
<rect x="323.00" y="203.50" width="4.00" height="1.20" fill="#555" />
<rect x="335.50" y="203.50" width="4.00" height="1.20" fill="#555" />
<rect x="354.00" y="203.50" width="4.00" height="1.20" fill="#555" />
<rect x="366.50" y="203.50" width="4.00" height="1.20" fill="#555" />
<rect x="379.00" y="203.50" width="4.00" height="1.20" fill="#555" />
<rect x="391.50" y="203.50" width="4.00" height="1.20" fill="#555" />
<rect x="306.20" y="201.50" width="2.40" height="5.00" fill="#3a7a44" />
<rect x="329.20" y="201.50" width="2.40" height="5.00" fill="#3a7a44" />
<rect x="363.20" y="201.50" width="2.40" height="5.00" fill="#3a7a44" />
<rect x="385.80" y="201.50" width="2.40" height="5.00" fill="#3a7a44" />
<rect x="297.40" y="209.80" width="3.40" height="3.60" fill="#111" rx="0.6"/>
<rect x="314.00" y="209.80" width="3.40" height="3.60" fill="#111" rx="0.6"/>
<rect x="320.00" y="209.80" width="3.40" height="3.60" fill="#111" rx="0.6"/>
<rect x="336.40" y="209.80" width="3.40" height="3.60" fill="#111" rx="0.6"/>
<rect x="306.20" y="209.40" width="2.40" height="4.60" fill="#3a7a44" />
<rect x="329.20" y="209.40" width="2.40" height="4.60" fill="#3a7a44" />
<circle cx="303.5" cy="211.6" r="0.8" fill="#222"/>
<circle cx="311.5" cy="211.6" r="0.8" fill="#222"/>
<circle cx="326" cy="211.6" r="0.8" fill="#222"/>
<circle cx="333.5" cy="211.6" r="0.8" fill="#222"/>
<rect x="355.60" y="209.40" width="4.40" height="4.40" fill="#111" rx="1"/>
<rect x="365.00" y="210.20" width="3.00" height="2.60" fill="#555" />
<rect x="373.00" y="210.20" width="6.50" height="2.80" fill="#3d8a4a" />
<rect x="384.00" y="210.60" width="3.40" height="1.60" fill="#222" />
<rect x="392.00" y="210.60" width="3.40" height="1.60" fill="#222" />
<rect x="302.50" y="218.40" width="38.80" height="7.80" fill="#46b05a" />
<rect x="303.00" y="219.00" width="8.60" height="6.60" fill="#5cc46e" />
<rect x="303.00" y="222.50" width="8.60" height="0.60" fill="#3a8a48" />
<rect x="312.70" y="219.00" width="8.60" height="6.60" fill="#5cc46e" />
<rect x="312.70" y="222.50" width="8.60" height="0.60" fill="#3a8a48" />
<rect x="322.40" y="219.00" width="8.60" height="6.60" fill="#5cc46e" />
<rect x="322.40" y="222.50" width="8.60" height="0.60" fill="#3a8a48" />
<rect x="332.10" y="219.00" width="8.60" height="6.60" fill="#5cc46e" />
<rect x="332.10" y="222.50" width="8.60" height="0.60" fill="#3a8a48" />
<rect x="297.80" y="225.00" width="4.00" height="3.60" fill="#111" />
<rect x="352.80" y="221.20" width="4.60" height="7.50" fill="#151515" />
<rect x="352.60" y="218.80" width="4.80" height="1.00" fill="#666" />
<path d="M372.2,218.3 L379.0,225 L372.2,231.7 L365.4,225 Z" fill="#d6d6d6" stroke="#a8a8a8" stroke-width="0.6"/>
<path d="M372.2,218.3 L379.0,225 L372.2,231.7 L365.4,225 Z" fill="url(#dots)"/>
<path d="M389.2,218.3 L396.0,225 L389.2,231.7 L382.4,225 Z" fill="#d6d6d6" stroke="#a8a8a8" stroke-width="0.6"/>
<path d="M389.2,218.3 L396.0,225 L389.2,231.7 L382.4,225 Z" fill="url(#dots)"/>
<rect x="290.20" y="231.60" width="128.60" height="1.40" fill="#666" />
<rect x="525.30" y="203.50" width="129.40" height="30.50" fill="#d4d4d4" stroke="#8a8a8a" stroke-width="0.8"/>
<rect x="529.30" y="204.50" width="120.00" height="5.80" fill="#dedede" />
<rect x="534.60" y="207.00" width="41.40" height="2.30" fill="#4f9a58" />
<rect x="581.60" y="207.00" width="21.90" height="2.30" fill="#4f9a58" />
<rect x="603.90" y="207.00" width="27.00" height="2.30" fill="#111" />
<rect x="529.40" y="210.50" width="50.00" height="22.00" fill="#dcdcdc" />
<rect x="529.40" y="209.70" width="50.00" height="1.30" fill="#2a2a2a" />
<rect x="529.40" y="216.60" width="50.00" height="1.30" fill="#2a2a2a" />
<rect x="529.40" y="224.40" width="50.00" height="1.30" fill="#2a2a2a" />
<rect x="529.40" y="231.80" width="50.00" height="1.30" fill="#2a2a2a" />
<rect x="582.00" y="210.50" width="59.00" height="22.00" fill="#dcdcdc" />
<rect x="582.00" y="209.70" width="59.00" height="1.30" fill="#2a2a2a" />
<rect x="582.00" y="216.60" width="59.00" height="1.30" fill="#2a2a2a" />
<rect x="582.00" y="224.40" width="59.00" height="1.30" fill="#2a2a2a" />
<rect x="582.00" y="231.80" width="59.00" height="1.30" fill="#2a2a2a" />
<rect x="641.00" y="210.00" width="13.00" height="22.50" fill="#d2d2d2" />
<rect x="533.00" y="213.40" width="5.00" height="1.20" fill="#8a8a8a" />
<rect x="545.00" y="213.40" width="5.00" height="1.20" fill="#8a8a8a" />
<rect x="557.00" y="213.40" width="5.00" height="1.20" fill="#8a8a8a" />
<rect x="569.00" y="213.40" width="5.00" height="1.20" fill="#8a8a8a" />
<rect x="541.60" y="218.60" width="2.70" height="4.80" fill="#3a7a44" />
<rect x="564.40" y="218.60" width="2.70" height="4.80" fill="#3a7a44" />
<rect x="534.00" y="220.60" width="3.50" height="1.00" fill="#555" />
<rect x="548.00" y="220.60" width="3.50" height="1.00" fill="#555" />
<rect x="557.00" y="220.60" width="3.50" height="1.00" fill="#555" />
<rect x="570.00" y="220.60" width="3.50" height="1.00" fill="#555" />
<rect x="532.70" y="227.00" width="3.80" height="3.70" fill="#111" rx="0.8"/>
<rect x="550.70" y="227.00" width="3.80" height="3.70" fill="#111" rx="0.8"/>
<rect x="555.50" y="227.00" width="3.80" height="3.70" fill="#111" rx="0.8"/>
<rect x="571.50" y="227.00" width="3.80" height="3.70" fill="#111" rx="0.8"/>
<rect x="541.60" y="226.60" width="2.70" height="4.40" fill="#3a7a44" />
<rect x="564.40" y="226.60" width="2.70" height="4.40" fill="#3a7a44" />
<circle cx="539" cy="228.8" r="0.8" fill="#222"/>
<circle cx="547" cy="228.8" r="0.8" fill="#222"/>
<circle cx="561.5" cy="228.8" r="0.8" fill="#222"/>
<circle cx="569" cy="228.8" r="0.8" fill="#222"/>
<circle cx="590.20" cy="213.8" r="1.8" fill="#dedede" stroke="#7e7e7e" stroke-width="0.55"/><circle cx="590.20" cy="213.8" r="0.7" fill="#a0a0a0"/>
<circle cx="596.30" cy="213.8" r="1.8" fill="#dedede" stroke="#7e7e7e" stroke-width="0.55"/><circle cx="596.30" cy="213.8" r="0.7" fill="#a0a0a0"/>
<circle cx="602.40" cy="213.8" r="1.8" fill="#dedede" stroke="#7e7e7e" stroke-width="0.55"/><circle cx="602.40" cy="213.8" r="0.7" fill="#a0a0a0"/>
<circle cx="608.50" cy="213.8" r="1.8" fill="#dedede" stroke="#7e7e7e" stroke-width="0.55"/><circle cx="608.50" cy="213.8" r="0.7" fill="#a0a0a0"/>
<circle cx="614.60" cy="213.8" r="1.8" fill="#dedede" stroke="#7e7e7e" stroke-width="0.55"/><circle cx="614.60" cy="213.8" r="0.7" fill="#a0a0a0"/>
<circle cx="620.70" cy="213.8" r="1.8" fill="#dedede" stroke="#7e7e7e" stroke-width="0.55"/><circle cx="620.70" cy="213.8" r="0.7" fill="#a0a0a0"/>
<circle cx="626.80" cy="213.8" r="1.8" fill="#dedede" stroke="#7e7e7e" stroke-width="0.55"/><circle cx="626.80" cy="213.8" r="0.7" fill="#a0a0a0"/>
<circle cx="632.90" cy="213.8" r="1.8" fill="#dedede" stroke="#7e7e7e" stroke-width="0.55"/><circle cx="632.90" cy="213.8" r="0.7" fill="#a0a0a0"/>
<rect x="587.00" y="220.60" width="6.00" height="1.10" fill="#8a8a8a" />
<rect x="600.00" y="220.60" width="6.00" height="1.10" fill="#8a8a8a" />
<rect x="613.00" y="220.60" width="6.00" height="1.10" fill="#8a8a8a" />
<rect x="626.00" y="220.60" width="6.00" height="1.10" fill="#8a8a8a" />
<rect x="588.00" y="226.40" width="4.00" height="3.80" fill="#111" rx="0.6"/>
<rect x="594.50" y="225.80" width="40.00" height="4.00" fill="#9aa848" />
<rect x="595.50" y="226.40" width="2.20" height="2.80" fill="#b4c060" />
<rect x="599.50" y="226.40" width="2.20" height="2.80" fill="#b4c060" />
<rect x="603.50" y="226.40" width="2.20" height="2.80" fill="#b4c060" />
<rect x="607.50" y="226.40" width="2.20" height="2.80" fill="#b4c060" />
<rect x="611.50" y="226.40" width="2.20" height="2.80" fill="#b4c060" />
<rect x="615.50" y="226.40" width="2.20" height="2.80" fill="#b4c060" />
<rect x="619.50" y="226.40" width="2.20" height="2.80" fill="#b4c060" />
<rect x="623.50" y="226.40" width="2.20" height="2.80" fill="#b4c060" />
<rect x="627.50" y="226.40" width="2.20" height="2.80" fill="#b4c060" />
<rect x="631.50" y="226.40" width="2.20" height="2.80" fill="#b4c060" />
<rect x="645.60" y="215.20" width="4.20" height="3.20" fill="#1a1a1a" rx="1.2"/>
<rect x="646.60" y="216.40" width="2.20" height="1.20" fill="#777" />
<rect x="642.80" y="221.60" width="7.80" height="6.60" fill="#111" rx="1.5"/>
<rect x="644.40" y="223.00" width="4.60" height="3.60" fill="#6a3a18" />
<rect x="644.20" y="229.40" width="6.00" height="0.80" fill="#888" />
<rect x="38.60" y="269.10" width="151.60" height="16.60" fill="#1f1f1f" />
<rect x="38.60" y="269.10" width="151.60" height="1.20" fill="#3a3a3a" />
<rect x="50.40" y="269.50" width="0.90" height="16.00" fill="#555" />
<rect x="72.80" y="269.50" width="0.90" height="16.00" fill="#555" />
<rect x="101.60" y="269.50" width="0.90" height="16.00" fill="#555" />
<rect x="109.70" y="269.50" width="0.90" height="16.00" fill="#555" />
<rect x="121.30" y="269.50" width="0.90" height="16.00" fill="#555" />
<circle cx="45" cy="281" r="1.6" fill="#bbb"/>
<rect x="52.50" y="278.00" width="12.00" height="3.40" fill="#e0e0e0" rx="1"/>
<rect x="54.00" y="278.80" width="9.00" height="1.80" fill="#555" />
<circle cx="70.3" cy="280.5" r="1.6" fill="#d0d0d0"/>
<rect x="75.00" y="280.00" width="6.00" height="2.60" fill="#e4e4e4" rx="0.6"/>
<rect x="86.00" y="279.00" width="8.00" height="3.60" fill="#7a7a7a" />
<rect x="85.50" y="271.40" width="9.00" height="2.80" fill="#0c0c0c" rx="1.2" stroke="#9a9a9a" stroke-width="0.5"/>
<rect x="76.00" y="271.80" width="8.00" height="0.60" fill="#888" />
<circle cx="98.5" cy="280.7" r="1" fill="#9ad0a0"/>
<rect x="104.00" y="279.50" width="4.00" height="3.40" fill="#6a6a6a" />
<circle cx="114" cy="275" r="1.7" fill="#e8e8e8"/><circle cx="118" cy="275" r="1.7" fill="#e8e8e8"/>
<circle cx="114" cy="280.5" r="1.8" fill="#c03040"/><circle cx="118" cy="280.5" r="1.8" fill="#c03040"/>
<rect x="129.80" y="272.10" width="14.50" height="2.20" fill="#f0f0f0" />
<circle cx="124.6" cy="280.8" r="1.5" fill="#aaa"/>
<rect x="130.50" y="280.00" width="5.50" height="2.60" fill="#e4e4e4" rx="0.6"/>
<rect x="139.00" y="280.00" width="5.50" height="2.60" fill="#e4e4e4" rx="0.6"/>
<rect x="147.50" y="277.80" width="8.50" height="5.40" fill="#2a2a2a" stroke="#8a8a8a" stroke-width="0.5"/>
<rect x="149.50" y="279.00" width="4.50" height="3.00" fill="#555" />
<circle cx="104.7" cy="275" r="0.8" fill="#ddd"/>
<rect x="146.00" y="271.80" width="10.00" height="2.00" fill="#0e0e0e" stroke="#555" stroke-width="0.4"/>
<rect x="159.60" y="269.60" width="9.20" height="15.80" fill="#5a4a3a" />
<rect x="161.00" y="272.40" width="6.50" height="5.00" fill="#9a9a9a" />
<rect x="161.20" y="279.50" width="6.00" height="3.20" fill="#c8c8c8" />
<path d="M173,272.5 Q179,269.8 185,272.5 Q187,278 185,283.5 Q179,286 173,283.5 Q171,278 173,272.5 Z" fill="#0e0e0e" stroke="#6a6a6a" stroke-width="0.6"/>
<path d="M175,276 L183,276 L183,281 Q179,283 175,281 Z" fill="#1c1c1c" stroke="#9a9a9a" stroke-width="0.5"/>
<rect x="176.60" y="277.60" width="1.20" height="2.00" fill="#ccc" />
<rect x="180.20" y="277.60" width="1.20" height="2.00" fill="#ccc" />
<rect x="177.40" y="271.60" width="4.00" height="2.60" fill="#d8d8d8" />
<rect x="178.20" y="272.30" width="2.40" height="1.20" fill="#777" />
<path d="M39.3,324.40000000000003 L55.8,320.1 L157.6,320.1 L177.3,324.70000000000005 L177.3,337.1 L39.3,337.1 Z" fill="#1e1e20"/>
<path d="M39.3,324.40000000000003 L55.8,320.1 L157.6,320.1 L177.3,324.70000000000005 L177.3,325.5 L157.3,321.1 L56.0,321.1 L39.3,325.3 Z" fill="#3a3a3e"/>
<ellipse cx="41.699999999999996" cy="326.70000000000005" rx="1.3" ry="0.8" fill="#e0e0e0"/><ellipse cx="41.699999999999996" cy="334.70000000000005" rx="1.3" ry="0.8" fill="#e0e0e0"/>
<ellipse cx="175.70000000000002" cy="326.70000000000005" rx="1.3" ry="0.8" fill="#e0e0e0"/><ellipse cx="175.70000000000002" cy="334.70000000000005" rx="1.3" ry="0.8" fill="#e0e0e0"/>
<rect x="47.30" y="325.60" width="3.00" height="1.60" fill="#bbb" />
<rect x="47.30" y="328.10" width="3.00" height="1.20" fill="#888" />
<circle cx="62.3" cy="325.1" r="0.8" fill="#ddd"/>
<rect x="61.30" y="332.10" width="3.00" height="0.80" fill="#999" />
<rect x="71.50" y="326.40" width="16.00" height="8.00" fill="#6474ee" />
<text x="72.9" y="333.40000000000003" font-family="Liberation Mono" font-size="8" font-weight="bold" fill="#2434a8" textLength="13.2" lengthAdjust="spacingAndGlyphs">223</text>
<rect x="93.30" y="327.60" width="46.00" height="7.00" fill="#151515" rx="3.5" stroke="#8a8a8a" stroke-width="0.7"/>
<rect x="97.30" y="329.10" width="4.50" height="4.00" fill="#2c2c2c" stroke="#555" stroke-width="0.4"/>
<rect x="103.80" y="329.10" width="4.50" height="4.00" fill="#2c2c2c" stroke="#555" stroke-width="0.4"/>
<rect x="110.30" y="329.10" width="4.50" height="4.00" fill="#2c2c2c" stroke="#555" stroke-width="0.4"/>
<rect x="116.80" y="329.10" width="4.50" height="4.00" fill="#2c2c2c" stroke="#555" stroke-width="0.4"/>
<rect x="123.30" y="329.10" width="4.50" height="4.00" fill="#2c2c2c" stroke="#555" stroke-width="0.4"/>
<rect x="129.80" y="329.10" width="4.50" height="4.00" fill="#2c2c2c" stroke="#555" stroke-width="0.4"/>
<rect x="102.30" y="324.40" width="22.00" height="0.70" fill="#777" />
<rect x="102.30" y="335.40" width="22.00" height="0.70" fill="#777" />
<rect x="146.80" y="326.10" width="7.50" height="8.50" fill="#2a2a2a" stroke="#444" stroke-width="0.5"/>
<circle cx="166.3" cy="330.6" r="2.3" fill="#b0202a"/>
<rect x="165.50" y="328.70" width="1.60" height="3.60" fill="#f0c0c0" />
<rect x="40.20" y="339.70" width="137.10" height="15.30" fill="#1a1a1a" />
<rect x="40.20" y="339.70" width="137.10" height="1.00" fill="#3a3a3a" />
<rect x="40.80" y="341.20" width="14.50" height="12.00" fill="#151515" stroke="#333" stroke-width="0.5"/>
<rect x="44.90" y="344.90" width="1.20" height="4.40" fill="#e0e0e0" />
<rect x="47.50" y="344.90" width="1.20" height="4.40" fill="#e0e0e0" />
<rect x="44.30" y="344.70" width="5.00" height="0.90" fill="#e0e0e0" />
<rect x="56.40" y="341.10" width="12.80" height="12.60" fill="#262626" stroke="#3c3c3c" stroke-width="0.6"/>
<rect x="59.00" y="343.30" width="7.20" height="8.00" fill="#4e4e4e" rx="1.2"/>
<rect x="61.80" y="344.30" width="1.60" height="2.60" fill="#161616" />
<rect x="60.00" y="347.90" width="1.60" height="2.20" fill="#161616" />
<rect x="63.60" y="347.90" width="1.60" height="2.20" fill="#161616" />
<rect x="70.50" y="341.10" width="12.80" height="12.60" fill="#262626" stroke="#3c3c3c" stroke-width="0.6"/>
<rect x="73.10" y="343.30" width="7.20" height="8.00" fill="#4e4e4e" rx="1.2"/>
<rect x="75.90" y="344.30" width="1.60" height="2.60" fill="#161616" />
<rect x="74.10" y="347.90" width="1.60" height="2.20" fill="#161616" />
<rect x="77.70" y="347.90" width="1.60" height="2.20" fill="#161616" />
<rect x="84.60" y="341.10" width="12.80" height="12.60" fill="#262626" stroke="#3c3c3c" stroke-width="0.6"/>
<rect x="87.20" y="343.30" width="7.20" height="8.00" fill="#4e4e4e" rx="1.2"/>
<rect x="90.00" y="344.30" width="1.60" height="2.60" fill="#161616" />
<rect x="88.20" y="347.90" width="1.60" height="2.20" fill="#161616" />
<rect x="91.80" y="347.90" width="1.60" height="2.20" fill="#161616" />
<rect x="98.70" y="341.10" width="12.80" height="12.60" fill="#262626" stroke="#3c3c3c" stroke-width="0.6"/>
<rect x="101.30" y="343.30" width="7.20" height="8.00" fill="#4e4e4e" rx="1.2"/>
<rect x="104.10" y="344.30" width="1.60" height="2.60" fill="#161616" />
<rect x="102.30" y="347.90" width="1.60" height="2.20" fill="#161616" />
<rect x="105.90" y="347.90" width="1.60" height="2.20" fill="#161616" />
<rect x="112.80" y="341.10" width="12.80" height="12.60" fill="#262626" stroke="#3c3c3c" stroke-width="0.6"/>
<rect x="115.40" y="343.30" width="7.20" height="8.00" fill="#4e4e4e" rx="1.2"/>
<rect x="118.20" y="344.30" width="1.60" height="2.60" fill="#161616" />
<rect x="116.40" y="347.90" width="1.60" height="2.20" fill="#161616" />
<rect x="120.00" y="347.90" width="1.60" height="2.20" fill="#161616" />
<rect x="126.90" y="341.10" width="12.80" height="12.60" fill="#262626" stroke="#3c3c3c" stroke-width="0.6"/>
<rect x="129.50" y="343.30" width="7.20" height="8.00" fill="#4e4e4e" rx="1.2"/>
<rect x="132.30" y="344.30" width="1.60" height="2.60" fill="#161616" />
<rect x="130.50" y="347.90" width="1.60" height="2.20" fill="#161616" />
<rect x="134.10" y="347.90" width="1.60" height="2.20" fill="#161616" />
<rect x="141.00" y="341.10" width="12.80" height="12.60" fill="#262626" stroke="#3c3c3c" stroke-width="0.6"/>
<rect x="143.60" y="343.30" width="7.20" height="8.00" fill="#4e4e4e" rx="1.2"/>
<rect x="146.40" y="344.30" width="1.60" height="2.60" fill="#161616" />
<rect x="144.60" y="347.90" width="1.60" height="2.20" fill="#161616" />
<rect x="148.20" y="347.90" width="1.60" height="2.20" fill="#161616" />
<rect x="155.10" y="341.10" width="12.80" height="12.60" fill="#262626" stroke="#3c3c3c" stroke-width="0.6"/>
<rect x="157.70" y="343.30" width="7.20" height="8.00" fill="#4e4e4e" rx="1.2"/>
<rect x="160.50" y="344.30" width="1.60" height="2.60" fill="#161616" />
<rect x="158.70" y="347.90" width="1.60" height="2.20" fill="#161616" />
<rect x="162.30" y="347.90" width="1.60" height="2.20" fill="#161616" />
<rect x="170.80" y="344.70" width="3.80" height="3.40" fill="#b4b49a" />
<rect x="170.50" y="349.20" width="4.40" height="0.80" fill="#3a8a4a" />
<rect x="52.00" y="355.00" width="6.00" height="1.80" fill="#0a0a0a" rx="0.8"/>
<rect x="158.70" y="355.00" width="6.00" height="1.80" fill="#0a0a0a" rx="0.8"/>
<path d="M767.8,324.3 L784.3,320 L886.0999999999999,320 L905.8,324.6 L905.8,337 L767.8,337 Z" fill="#1e1e20"/>
<path d="M767.8,324.3 L784.3,320 L886.0999999999999,320 L905.8,324.6 L905.8,325.4 L885.8,321 L784.5,321 L767.8,325.2 Z" fill="#3a3a3e"/>
<ellipse cx="770.1999999999999" cy="326.6" rx="1.3" ry="0.8" fill="#e0e0e0"/><ellipse cx="770.1999999999999" cy="334.6" rx="1.3" ry="0.8" fill="#e0e0e0"/>
<ellipse cx="904.1999999999999" cy="326.6" rx="1.3" ry="0.8" fill="#e0e0e0"/><ellipse cx="904.1999999999999" cy="334.6" rx="1.3" ry="0.8" fill="#e0e0e0"/>
<rect x="775.80" y="325.50" width="3.00" height="1.60" fill="#bbb" />
<rect x="775.80" y="328.00" width="3.00" height="1.20" fill="#888" />
<circle cx="790.8" cy="325" r="0.8" fill="#ddd"/>
<rect x="789.80" y="332.00" width="3.00" height="0.80" fill="#999" />
<rect x="800.00" y="326.30" width="16.00" height="8.00" fill="#6474ee" />
<text x="801.4" y="333.3" font-family="Liberation Mono" font-size="8" font-weight="bold" fill="#2434a8" textLength="13.2" lengthAdjust="spacingAndGlyphs">223</text>
<rect x="821.80" y="327.50" width="46.00" height="7.00" fill="#151515" rx="3.5" stroke="#8a8a8a" stroke-width="0.7"/>
<rect x="825.80" y="329.00" width="4.50" height="4.00" fill="#2c2c2c" stroke="#555" stroke-width="0.4"/>
<rect x="832.30" y="329.00" width="4.50" height="4.00" fill="#2c2c2c" stroke="#555" stroke-width="0.4"/>
<rect x="838.80" y="329.00" width="4.50" height="4.00" fill="#2c2c2c" stroke="#555" stroke-width="0.4"/>
<rect x="845.30" y="329.00" width="4.50" height="4.00" fill="#2c2c2c" stroke="#555" stroke-width="0.4"/>
<rect x="851.80" y="329.00" width="4.50" height="4.00" fill="#2c2c2c" stroke="#555" stroke-width="0.4"/>
<rect x="858.30" y="329.00" width="4.50" height="4.00" fill="#2c2c2c" stroke="#555" stroke-width="0.4"/>
<rect x="830.80" y="324.30" width="22.00" height="0.70" fill="#777" />
<rect x="830.80" y="335.30" width="22.00" height="0.70" fill="#777" />
<rect x="875.30" y="326.00" width="7.50" height="8.50" fill="#2a2a2a" stroke="#444" stroke-width="0.5"/>
<circle cx="894.8" cy="330.5" r="2.3" fill="#b0202a"/>
<rect x="894.00" y="328.60" width="1.60" height="3.60" fill="#f0c0c0" />
<rect x="768.70" y="339.60" width="137.10" height="15.30" fill="#1a1a1a" />
<rect x="768.70" y="339.60" width="137.10" height="1.00" fill="#3a3a3a" />
<rect x="769.30" y="341.10" width="14.50" height="12.00" fill="#151515" stroke="#333" stroke-width="0.5"/>
<rect x="773.40" y="344.80" width="1.20" height="4.40" fill="#e0e0e0" />
<rect x="776.00" y="344.80" width="1.20" height="4.40" fill="#e0e0e0" />
<rect x="772.80" y="344.60" width="5.00" height="0.90" fill="#e0e0e0" />
<rect x="784.90" y="341.00" width="12.80" height="12.60" fill="#262626" stroke="#3c3c3c" stroke-width="0.6"/>
<rect x="787.50" y="343.20" width="7.20" height="8.00" fill="#4e4e4e" rx="1.2"/>
<rect x="790.30" y="344.20" width="1.60" height="2.60" fill="#161616" />
<rect x="788.50" y="347.80" width="1.60" height="2.20" fill="#161616" />
<rect x="792.10" y="347.80" width="1.60" height="2.20" fill="#161616" />
<rect x="799.00" y="341.00" width="12.80" height="12.60" fill="#262626" stroke="#3c3c3c" stroke-width="0.6"/>
<rect x="801.60" y="343.20" width="7.20" height="8.00" fill="#4e4e4e" rx="1.2"/>
<rect x="804.40" y="344.20" width="1.60" height="2.60" fill="#161616" />
<rect x="802.60" y="347.80" width="1.60" height="2.20" fill="#161616" />
<rect x="806.20" y="347.80" width="1.60" height="2.20" fill="#161616" />
<rect x="813.10" y="341.00" width="12.80" height="12.60" fill="#262626" stroke="#3c3c3c" stroke-width="0.6"/>
<rect x="815.70" y="343.20" width="7.20" height="8.00" fill="#4e4e4e" rx="1.2"/>
<rect x="818.50" y="344.20" width="1.60" height="2.60" fill="#161616" />
<rect x="816.70" y="347.80" width="1.60" height="2.20" fill="#161616" />
<rect x="820.30" y="347.80" width="1.60" height="2.20" fill="#161616" />
<rect x="827.20" y="341.00" width="12.80" height="12.60" fill="#262626" stroke="#3c3c3c" stroke-width="0.6"/>
<rect x="829.80" y="343.20" width="7.20" height="8.00" fill="#4e4e4e" rx="1.2"/>
<rect x="832.60" y="344.20" width="1.60" height="2.60" fill="#161616" />
<rect x="830.80" y="347.80" width="1.60" height="2.20" fill="#161616" />
<rect x="834.40" y="347.80" width="1.60" height="2.20" fill="#161616" />
<rect x="841.30" y="341.00" width="12.80" height="12.60" fill="#262626" stroke="#3c3c3c" stroke-width="0.6"/>
<rect x="843.90" y="343.20" width="7.20" height="8.00" fill="#4e4e4e" rx="1.2"/>
<rect x="846.70" y="344.20" width="1.60" height="2.60" fill="#161616" />
<rect x="844.90" y="347.80" width="1.60" height="2.20" fill="#161616" />
<rect x="848.50" y="347.80" width="1.60" height="2.20" fill="#161616" />
<rect x="855.40" y="341.00" width="12.80" height="12.60" fill="#262626" stroke="#3c3c3c" stroke-width="0.6"/>
<rect x="858.00" y="343.20" width="7.20" height="8.00" fill="#4e4e4e" rx="1.2"/>
<rect x="860.80" y="344.20" width="1.60" height="2.60" fill="#161616" />
<rect x="859.00" y="347.80" width="1.60" height="2.20" fill="#161616" />
<rect x="862.60" y="347.80" width="1.60" height="2.20" fill="#161616" />
<rect x="869.50" y="341.00" width="12.80" height="12.60" fill="#262626" stroke="#3c3c3c" stroke-width="0.6"/>
<rect x="872.10" y="343.20" width="7.20" height="8.00" fill="#4e4e4e" rx="1.2"/>
<rect x="874.90" y="344.20" width="1.60" height="2.60" fill="#161616" />
<rect x="873.10" y="347.80" width="1.60" height="2.20" fill="#161616" />
<rect x="876.70" y="347.80" width="1.60" height="2.20" fill="#161616" />
<rect x="883.60" y="341.00" width="12.80" height="12.60" fill="#262626" stroke="#3c3c3c" stroke-width="0.6"/>
<rect x="886.20" y="343.20" width="7.20" height="8.00" fill="#4e4e4e" rx="1.2"/>
<rect x="889.00" y="344.20" width="1.60" height="2.60" fill="#161616" />
<rect x="887.20" y="347.80" width="1.60" height="2.20" fill="#161616" />
<rect x="890.80" y="347.80" width="1.60" height="2.20" fill="#161616" />
<rect x="899.30" y="344.60" width="3.80" height="3.40" fill="#b4b49a" />
<rect x="899.00" y="349.10" width="4.40" height="0.80" fill="#3a8a4a" />
<rect x="780.50" y="354.90" width="6.00" height="1.80" fill="#0a0a0a" rx="0.8"/>
<rect x="887.20" y="354.90" width="6.00" height="1.80" fill="#0a0a0a" rx="0.8"/>
<rect x="523.10" y="311.00" width="107.30" height="23.80" fill="#1e1e20" />
<rect x="523.10" y="311.00" width="7.50" height="23.80" fill="#2a2a2e" />
<rect x="622.90" y="311.00" width="7.50" height="23.80" fill="#2a2a2e" />
<rect x="525.30" y="316.00" width="1.80" height="1.00" fill="#ddd" />
<rect x="525.30" y="327.00" width="1.80" height="1.00" fill="#ddd" />
<rect x="625.20" y="316.00" width="1.80" height="1.00" fill="#ddd" />
<rect x="625.20" y="327.00" width="1.80" height="1.00" fill="#ddd" />
<rect x="531.10" y="311.30" width="91.30" height="1.00" fill="#3a3a3e" />
<rect x="535.10" y="312.80" width="10.00" height="1.00" fill="#6a6a6a" />
<rect x="535.10" y="316.00" width="36.00" height="0.70" fill="#2c2c30" />
<rect x="535.10" y="318.00" width="36.00" height="0.70" fill="#2c2c30" />
<rect x="535.10" y="320.00" width="36.00" height="0.70" fill="#2c2c30" />
<rect x="535.10" y="322.00" width="36.00" height="0.70" fill="#2c2c30" />
<rect x="535.10" y="324.00" width="36.00" height="0.70" fill="#2c2c30" />
<rect x="535.10" y="326.00" width="36.00" height="0.70" fill="#2c2c30" />
<rect x="535.10" y="328.00" width="36.00" height="0.70" fill="#2c2c30" />
<rect x="535.10" y="330.00" width="36.00" height="0.70" fill="#2c2c30" />
<rect x="535.10" y="332.00" width="36.00" height="0.70" fill="#2c2c30" />
<rect x="573.10" y="322.00" width="22.00" height="8.00" fill="#252528" />
<rect x="609.10" y="325.00" width="10.00" height="5.00" fill="#2c2c30" />
<path d="M326.6,297.2 L409.8,297.2 L419.2,315.2 L318,315.2 Z" fill="url(#mictop)"/>
<path d="M326.6,297.2 L409.8,297.2 L410.5,298.5 L325.9,298.5 Z" fill="#5a5a5a"/>
<path d="M326.6,297.2 L329.6,297.2 L321.6,315.2 L318,315.2 Z" fill="#4a4a4c"/>
<path d="M409.8,297.2 L406.8,297.2 L415.4,315.2 L419.2,315.2 Z" fill="#4a4a4c"/>
<rect x="318" y="315.2" width="101.2" height="16.3" fill="url(#micfront)"/>
<rect x="318" y="315.2" width="101.2" height="1" fill="#7a7a7a"/>
<rect x="319" y="317.5" width="10" height="12.5" fill="#242426"/>
<rect x="408.2" y="317.5" width="10" height="12.5" fill="#242426"/>
<rect x="350.6" y="319.1" width="36.9" height="9.8" rx="4.9" fill="#2a2a2c" stroke="#d8d8d8" stroke-width="1.1"/>
<circle cx="382.3" cy="324" r="2.3" fill="#c8c8c8"/>
<circle cx="397.5" cy="323.5" r="0.8" fill="#777"/>
<path d="M783.5,246.7 L889.4,246.7 L902.2,266.3 L771.8,266.3 Z" fill="url(#termtop)"/>
<rect x="771.8" y="266.3" width="130.4" height="19.6" fill="url(#termfront)"/>
<rect x="771.8" y="266.3" width="130.4" height="19.6" fill="url(#termfrontv)"/>
<rect x="771.8" y="266.3" width="130.4" height="1" fill="#d8d8d8"/>
<rect x="883" y="272.7" width="18.6" height="4.9" fill="#111"/>
<circle cx="885.5" cy="275.1" r="1" fill="#555"/>
<path d="M893,277.6 L896,272.7 L901.6,272.7 L901.6,277.6 Z" fill="#333"/>
<path d="M833.2,274.6 L837.2,278.4 M837.2,274.6 L833.2,278.4" stroke="#f4f4f4" stroke-width="1.1"/>
<circle cx="835.2" cy="276.5" r="1" fill="#ffffff"/>
<text class="lbl ttl" x="10.43" y="11.16" font-size="12.4" textLength="173.44" lengthAdjust="spacingAndGlyphs">航天某部会议室双网系统拓扑图</text>
<text class="lbl" x="531.60" y="10.70" font-size="10" textLength="40.30" lengthAdjust="spacingAndGlyphs">音频信号</text>
<text class="lbl" x="648.70" y="10.70" font-size="10" textLength="39.80" lengthAdjust="spacingAndGlyphs">视频信号</text>
<text class="lbl" x="766.70" y="10.70" font-size="10" textLength="40.00" lengthAdjust="spacingAndGlyphs">控制信号</text>
<text class="lbl" x="883.40" y="10.70" font-size="10" textLength="20.30" lengthAdjust="spacingAndGlyphs">电源</text>
<text class="lbl" x="55.11" y="87.42" font-size="9.8" textLength="29.38" lengthAdjust="spacingAndGlyphs">摄像头</text>
<text class="lbl" x="55.01" y="158.02" font-size="9.8" textLength="29.48" lengthAdjust="spacingAndGlyphs">摄像头</text>
<text class="lbl" x="272.10" y="90.10" font-size="10" textLength="40.30" lengthAdjust="spacingAndGlyphs">左大电视</text>
<text class="lbl" x="391.70" y="90.10" font-size="10" textLength="40.40" lengthAdjust="spacingAndGlyphs">右大电视</text>
<text class="lbl" x="509.30" y="87.60" font-size="10" textLength="40.40" lengthAdjust="spacingAndGlyphs">左小电视</text>
<text class="lbl" x="627.00" y="88.00" font-size="10" textLength="40.40" lengthAdjust="spacingAndGlyphs">右小电视</text>
<text class="lbl" x="858.51" y="86.32" font-size="9.8" textLength="30.28" lengthAdjust="spacingAndGlyphs">摄像头</text>
<text class="lbl" x="854.71" y="160.72" font-size="9.8" textLength="29.78" lengthAdjust="spacingAndGlyphs">摄像头</text>
<text class="lbl" x="41.60" y="228.00" font-size="10" textLength="40.70" lengthAdjust="spacingAndGlyphs">控制平板</text>
<text class="lbl" x="845.90" y="225.20" font-size="10" textLength="49.30" lengthAdjust="spacingAndGlyphs">网控制平板</text>
<text class="lbl" x="309.10" y="248.00" font-size="10" textLength="95.10" lengthAdjust="spacingAndGlyphs">多媒体综合一体机UT4</text>
<text class="lbl" x="539.40" y="248.40" font-size="10" textLength="95.00" lengthAdjust="spacingAndGlyphs">多媒体综合一体机UT2</text>
<text class="lbl" x="73.20" y="298.40" font-size="10" textLength="61.10" lengthAdjust="spacingAndGlyphs">视频会议终端</text>
<text class="lbl" x="811.10" y="298.60" font-size="10" textLength="59.40" lengthAdjust="spacingAndGlyphs">视频会议终端</text>
<text class="lbl" x="77.70" y="367.30" font-size="10" textLength="49.50" lengthAdjust="spacingAndGlyphs">电源控制器</text>
<text class="lbl" x="813.90" y="369.20" font-size="10" textLength="49.90" lengthAdjust="spacingAndGlyphs">电源控制器</text>
<text class="lbl" x="331.90" y="342.30" font-size="10" textLength="69.30" lengthAdjust="spacingAndGlyphs">手拉手话筒主机</text>
<text class="lbl" x="551.10" y="348.60" font-size="10" textLength="19.80" lengthAdjust="spacingAndGlyphs">功放</text>
</svg>
</body></html>
